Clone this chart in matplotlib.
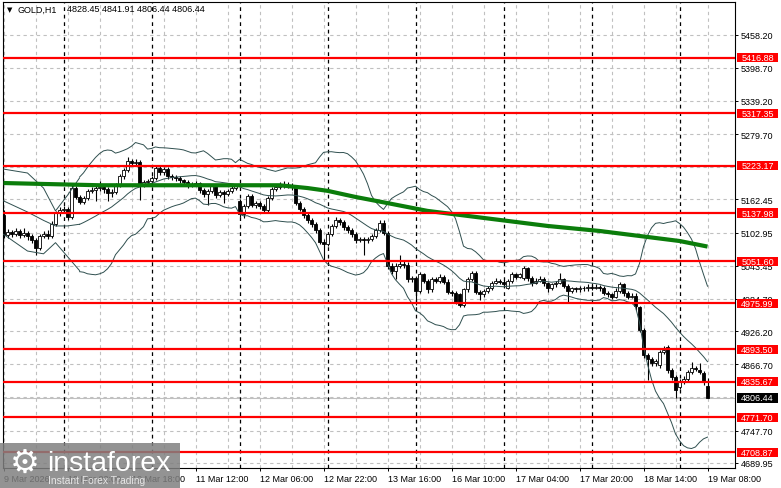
import matplotlib.pyplot as plt
import matplotlib.transforms as mtransforms
import numpy as np
import pandas as pd
from matplotlib.patches import Rectangle

# GOLD H1 candles, 9 Mar 2026 .. 19 Mar 2026 08:00
opens = [
    5135, 5099, 5104, 5101, 5106, 5099, 5103, 5097, 5090, 5076,
    5097, 5101, 5097, 5119, 5138, 5144, 5146, 5131, 5183, 5167,
    5158, 5165, 5178, 5180, 5183, 5185, 5181, 5174, 5176, 5188,
    5205, 5215, 5231, 5228, 5230, 5190, 5194, 5196, 5201, 5219,
    5212, 5217, 5205, 5203, 5201, 5197, 5194, 5188, 5190, 5192,
    5180, 5172, 5178, 5187, 5171, 5176, 5172, 5178, 5183, 5160,
    5137, 5151, 5169, 5153, 5156, 5151, 5144, 5165, 5181, 5185,
    5190, 5187, 5189, 5185, 5156, 5146, 5135, 5126, 5119, 5108,
    5087, 5083, 5101, 5115, 5126, 5122, 5113, 5108, 5101, 5090,
    5092, 5090, 5092, 5097, 5108, 5120, 5103, 5044, 5035, 5044,
    5047, 5045, 5019, 5022, 4999, 5028, 5017, 5001, 5020, 5017,
    5024, 5015, 4997, 4994, 4992, 4974, 5001, 5020, 5030, 4997,
    4992, 4999, 5004, 5013, 5017, 5015, 5004, 5017, 5028, 5024,
    5022, 5040, 5022, 5013, 5017, 5020, 5012, 5003, 5010, 5013,
    5019, 5008, 4999, 5003, 5001, 5004, 5003, 5006, 5004, 5006,
    5004, 4995, 4992, 4988, 4999, 5010, 4995, 4988, 4990, 4969,
    4928, 4883, 4876, 4869, 4865, 4888, 4897, 4856, 4844, 4826,
    4835, 4840, 4853, 4860, 4856, 4851, 4828.45]
highs = [
    5144, 5110, 5108, 5112, 5110, 5111, 5106, 5101, 5094, 5101,
    5106, 5108, 5124, 5142, 5149, 5151, 5149, 5188, 5186, 5170,
    5169, 5181, 5184, 5188, 5196, 5190, 5184, 5181, 5192, 5208,
    5219, 5238, 5236, 5235, 5233, 5198, 5200, 5205, 5222, 5222,
    5221, 5220, 5209, 5207, 5204, 5200, 5198, 5194, 5196, 5194,
    5183, 5181, 5191, 5190, 5179, 5180, 5181, 5187, 5190, 5163,
    5155, 5173, 5172, 5160, 5159, 5154, 5168, 5185, 5188, 5193,
    5195, 5193, 5192, 5188, 5160, 5149, 5138, 5129, 5122, 5111,
    5091, 5105, 5119, 5131, 5130, 5126, 5117, 5112, 5104, 5096,
    5095, 5096, 5101, 5112, 5126, 5126, 5106, 5048, 5048, 5062,
    5052, 5050, 5026, 5026, 5032, 5031, 5020, 5024, 5024, 5028,
    5027, 5019, 5000, 4998, 4995, 5004, 5024, 5034, 5034, 5000,
    5002, 5008, 5017, 5021, 5020, 5018, 5020, 5032, 5031, 5031,
    5044, 5042, 5026, 5022, 5025, 5023, 5015, 5013, 5017, 5030,
    5022, 5011, 5006, 5006, 5008, 5008, 5010, 5012, 5010, 5009,
    5008, 4998, 4995, 5003, 5014, 5013, 4998, 4994, 4994, 4972,
    4932, 4887, 4880, 4876, 4892, 4900, 4902, 4860, 4848, 4840,
    4845, 4857, 4870, 4864, 4869, 4855, 4841.91]
lows = [
    5094, 5094, 5095, 5097, 5093, 5095, 5090, 5085, 5062, 5072,
    5093, 5092, 5093, 5115, 5133, 5140, 5126, 5128, 5163, 5154,
    5154, 5161, 5174, 5160, 5178, 5175, 5160, 5167, 5172, 5184,
    5200, 5211, 5224, 5224, 5162, 5185, 5188, 5190, 5197, 5206,
    5207, 5200, 5197, 5195, 5192, 5188, 5183, 5184, 5186, 5174,
    5167, 5153, 5174, 5166, 5167, 5156, 5168, 5175, 5180, 5131,
    5130, 5147, 5149, 5148, 5146, 5138, 5140, 5162, 5178, 5182,
    5183, 5183, 5180, 5152, 5141, 5130, 5121, 5114, 5103, 5082,
    5054, 5079, 5097, 5111, 5117, 5108, 5103, 5096, 5085, 5086,
    5063, 5084, 5088, 5094, 5104, 5099, 5038, 5029, 5019, 5040,
    5040, 5014, 5015, 4974, 4995, 5012, 4995, 4997, 5012, 5013,
    5010, 4993, 4989, 4975, 4969, 4970, 4997, 5016, 4993, 4983,
    4988, 4995, 5000, 5010, 5011, 5006, 5001, 5013, 5020, 5021,
    5018, 5017, 5008, 5010, 5014, 5008, 4997, 5000, 5006, 5010,
    5004, 4977, 4995, 4996, 4997, 4998, 4999, 5000, 5001, 4999,
    4991, 4987, 4984, 4985, 4995, 4990, 4984, 4985, 4965, 4924,
    4878, 4838, 4864, 4863, 4860, 4886, 4851, 4838, 4807, 4822,
    4831, 4836, 4849, 4855, 4849, 4830, 4806.44]
closes = [
    5099, 5104, 5101, 5106, 5099, 5103, 5097, 5090, 5076, 5097,
    5101, 5097, 5119, 5138, 5144, 5146, 5131, 5183, 5167, 5158,
    5165, 5178, 5180, 5183, 5185, 5181, 5174, 5176, 5188, 5205,
    5215, 5231, 5228, 5230, 5190, 5194, 5196, 5201, 5219, 5212,
    5217, 5205, 5203, 5201, 5197, 5194, 5188, 5190, 5192, 5180,
    5172, 5178, 5187, 5171, 5176, 5172, 5178, 5183, 5187, 5137,
    5151, 5169, 5153, 5156, 5151, 5144, 5165, 5181, 5185, 5190,
    5187, 5189, 5185, 5156, 5146, 5135, 5126, 5119, 5108, 5087,
    5083, 5101, 5115, 5126, 5122, 5113, 5108, 5101, 5090, 5092,
    5090, 5092, 5097, 5108, 5120, 5103, 5044, 5035, 5044, 5047,
    5045, 5019, 5022, 4999, 5028, 5017, 5001, 5020, 5017, 5024,
    5015, 4997, 4994, 4979, 4974, 5001, 5020, 5030, 4997, 4992,
    4999, 5004, 5013, 5017, 5015, 5010, 5017, 5028, 5024, 5028,
    5040, 5022, 5013, 5017, 5020, 5012, 5003, 5010, 5013, 5019,
    5008, 4999, 5003, 5001, 5004, 5003, 5006, 5004, 5006, 5004,
    4995, 4992, 4988, 4999, 5010, 4995, 4988, 4990, 4972, 4928,
    4883, 4876, 4869, 4872, 4888, 4892, 4856, 4844, 4820, 4835,
    4840, 4853, 4860, 4858, 4853, 4835, 4806.44]

# 200-period moving average (green), read at a few bars
ma_bars = [0, 24, 49, 69, 76, 81, 88, 96, 106, 116, 126, 136, 149, 159, 169, 176]
ma_values = [5192, 5188, 5188, 5188, 5183, 5178, 5167, 5156, 5142, 5133,
             5124, 5115, 5106, 5097, 5088, 5078]

# Bollinger band values before a full 20-bar window exists
band_head_bars = [0, 6, 10, 13, 16, 19]
upper_head = [5217, 5210, 5183, 5142, 5170, 5201]
middle_head = [5160, 5140, 5125, 5115, 5115, 5118]
lower_head = [5100, 5070, 5065, 5085, 5060, 5035]

levels = [5416.88, 5317.35, 5223.17, 5137.98, 5051.60, 4975.99,
          4893.50, 4835.67, 4771.70, 4708.87]
grid_prices = [5458.20, 5398.70, 5339.20, 5279.70, 5220.95, 5162.45, 5102.95,
               5043.45, 4984.70, 4926.20, 4866.70, 4807.20, 4747.70, 4689.95]
# price scale labels not hidden under a price tag
scale_labels = [5458.20, 5398.70, 5339.20, 5279.70, 5162.45, 5102.95,
                5043.45, 4984.70, 4926.20, 4866.70, 4747.70, 4689.95]
day_starts = [15, 37, 59, 81, 103, 125, 147, 169]
time_bars = [0, 16, 32, 48, 64, 80, 96, 112, 128, 144, 160, 176]
time_labels = ['9 Mar 2026', '10 Mar 02:00', '10 Mar 18:00', '11 Mar 12:00',
               '12 Mar 06:00', '12 Mar 22:00', '13 Mar 16:00', '16 Mar 10:00',
               '17 Mar 04:00', '17 Mar 20:00', '18 Mar 14:00', '19 Mar 08:00']

W, H = 781, 489


def draw_candles(ax):
    o = np.array(opens, dtype=float)
    h = np.array(highs, dtype=float)
    l = np.array(lows, dtype=float)
    c = np.array(closes, dtype=float)
    x = np.arange(len(c))
    up = c >= o
    ax.vlines(x, l, h, color='black', lw=0.8, zorder=3)
    bottom = np.minimum(o, c)
    height = np.maximum(np.abs(c - o), 1.0)
    ax.bar(x, height, bottom=bottom, width=0.62,
           color=np.where(up, 'white', 'black'), edgecolor='black',
           linewidth=0.6, zorder=4)


def draw_bands(ax):
    s = pd.Series(closes, dtype=float)
    mid = s.rolling(20).mean()
    dev = s.rolling(20).std(ddof=0)
    x = np.arange(len(s))
    for head, line in ((upper_head, mid + 3 * dev), (middle_head, mid),
                       (lower_head, mid - 3 * dev)):
        ax.plot(band_head_bars, head, color='#2f4f4f', lw=0.7, zorder=4.5)
        ax.plot(x[19:], line[19:], color='#2f4f4f', lw=0.7, zorder=4.5)


plt.rcParams['font.family'] = ['Liberation Sans', 'DejaVu Sans']

fig = plt.figure(figsize=(W / 100, H / 100), dpi=100)
ax = fig.add_axes([3 / W, 1 - 469 / H, 732 / W, 466 / H])
ax.set_xlim(-0.125, 182.875)
ax.set_ylim(4680.7, 5516.8)

for p in grid_prices:
    ax.axhline(p, color='#c0c0c0', lw=0.8, ls=(0, (3, 3)), zorder=1)
for b in range(176, -8, -8):
    ax.axvline(b, color='#c0c0c0', lw=0.8, ls=(0, (3, 3)), zorder=1)
for b in day_starts:
    ax.axvline(b, color='black', lw=0.9, ls=(0, (3, 3)), zorder=1.5)

ax.axhline(closes[-1], color='#c0c0c0', lw=0.8, zorder=1.2)

draw_candles(ax)
ax.plot(ma_bars, ma_values, color='#0b7d0b', lw=3.0, zorder=5,
        solid_capstyle='butt')
draw_bands(ax)

for p in levels:
    ax.axhline(p, color='#ff0000', lw=1.6, zorder=6)

# axes and ticks
for sp in ax.spines.values():
    sp.set_linewidth(0.8)
ax.yaxis.tick_right()
ax.set_yticks(scale_labels)
ax.set_yticklabels([f'{p:.2f}' for p in scale_labels])
ax.set_xticks(time_bars)
ax.set_xticklabels(time_labels, ha='left')
ax.tick_params(axis='both', direction='out', length=2.2, width=0.7,
               labelsize=6.5, colors='black', pad=2)

# price tags on the right
blend = mtransforms.blended_transform_factory(fig.transFigure, ax.transData)
tag_h = 16.7
for p in levels + [closes[-1]]:
    col = 'black' if p == closes[-1] else '#ff0000'
    ax.add_patch(Rectangle((737 / W, p - tag_h / 2), 41 / W, tag_h,
                           transform=blend, facecolor=col, edgecolor='none',
                           clip_on=False, zorder=7))
    ax.text(757.5 / W, p, f'{p:.2f}', transform=blend, color='white',
            fontsize=6.5, ha='center', va='center', clip_on=False, zorder=8)

# header: symbol and O/H/L/C of the last bar
fig.text(7 / W, 1 - 10 / H, '\u25bc', fontsize=5, va='center', ha='left',
         family=['DejaVu Sans'])
fig.text(18 / W, 1 - 10 / H, 'GOLD,H1', fontsize=6.5, va='center', ha='left')
fig.text(67 / W, 1 - 10 / H,
         f'{opens[-1]:.2f} {highs[-1]:.2f} {lows[-1]:.2f} {closes[-1]:.2f}',
         fontsize=6.5, va='center', ha='left')

# watermark
fig.patches.append(Rectangle((0, 0), 180 / W, 45 / H, transform=fig.transFigure,
                             facecolor='#808080', alpha=0.85, edgecolor='none',
                             zorder=10))
fig.text(25 / W, 1 - 463 / H, '\u2699', fontsize=24, color='white',
         ha='center', va='center', family=['DejaVu Sans'], zorder=11)
fig.text(47 / W, 1 - 471 / H, 'instaforex', fontsize=20.5, color='white',
         ha='left', va='baseline', zorder=11)
fig.text(48 / W, 1 - 484 / H, 'Instant Forex Trading', fontsize=7.4,
         color='#e6e6e6', ha='left', va='baseline', zorder=11)

fig.savefig('out.png', dpi=100)
